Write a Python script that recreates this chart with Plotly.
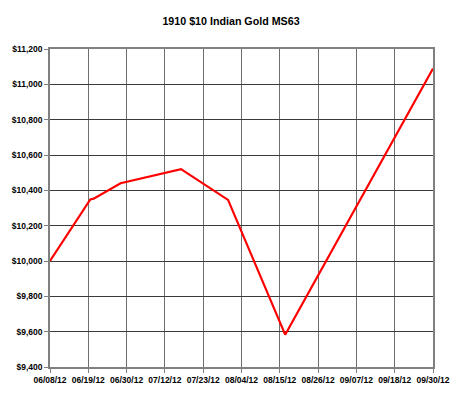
import plotly.graph_objects as go
import pandas as pd

# Data
dates = ["2012-06-08", "2012-06-20", "2012-06-21", "2012-06-29", "2012-07-17",
         "2012-07-31", "2012-08-17", "2012-09-30"]
prices = [10000, 10348, 10353, 10440, 10520, 10346, 9583, 11090]

tick_labels = ["06/08/12", "06/19/12", "06/30/12", "07/12/12", "07/23/12", "08/04/12",
               "08/15/12", "08/26/12", "09/07/12", "09/18/12", "09/30/12"]
y_ticks = [9400, 9600, 9800, 10000, 10200, 10400, 10600, 10800, 11000, 11200]

start = pd.Timestamp("2012-06-08")
end = pd.Timestamp("2012-09-30")
n = len(tick_labels) - 1
step = (end - start) / n
tick_vals = [(start + step * k).strftime("%Y-%m-%d %H:%M:%S") for k in range(n + 1)]

fig = go.Figure()
fig.add_trace(go.Scatter(
    x=dates, y=prices, mode="lines",
    line=dict(color="#ff0000", width=2.2),
    hoverinfo="skip",
))

font_family = "Liberation Sans, Arial, sans-serif"

fig.update_layout(
    width=462, height=403,
    margin=dict(l=49, r=26, t=49, b=36),
    paper_bgcolor="white", plot_bgcolor="white",
    showlegend=False,
    title=dict(text="<b>1910 $10 Indian Gold MS63</b>",
               x=0.5, xanchor="center", y=1 - 21 / 403, yanchor="middle",
               font=dict(family=font_family, size=10.7, color="black")),
    xaxis=dict(
        type="date",
        range=[start.strftime("%Y-%m-%d"), end.strftime("%Y-%m-%d")],
        tickvals=tick_vals, ticktext=[f"<b>{t}</b>" for t in tick_labels],
        tickfont=dict(family=font_family, size=8.5, color="black"),
        showgrid=True, gridcolor="#6e6e6e", gridwidth=1.3,
        showline=True, linecolor="#808080", linewidth=1.5, mirror=True,
        ticks="outside", ticklen=4, tickcolor="#808080", tickwidth=1.3,
        zeroline=False,
    ),
    yaxis=dict(
        range=[9400, 11200],
        tickvals=y_ticks, ticktext=[f"<b>${v:,}</b>" for v in y_ticks],
        tickfont=dict(family=font_family, size=8.5, color="black"),
        showgrid=True, gridcolor="#3a3a3a", gridwidth=1,
        showline=True, linecolor="#808080", linewidth=1.5, mirror=True,
        ticks="outside", ticklen=4, tickcolor="#808080", tickwidth=1.3,
        zeroline=False,
    ),
)

fig.write_html("out.html")
